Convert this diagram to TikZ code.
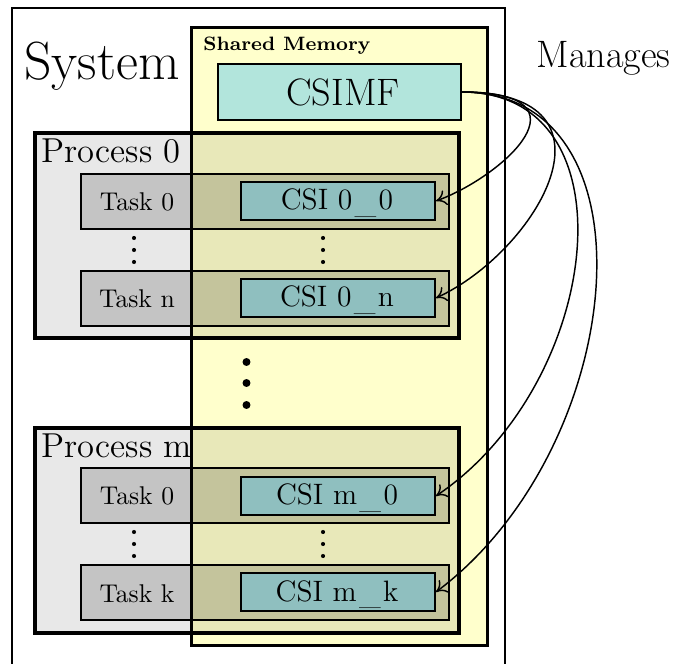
\documentclass[tikz,border=0pt]{standalone}
\usetikzlibrary{fit,arrows.meta}
\definecolor{memyellow}{HTML}{FFFFCC}
\definecolor{procgray}{HTML}{E8E8E8}
\definecolor{taskgray}{HTML}{D8D8D8}
\definecolor{csiteal}{HTML}{8FBFBF}
\definecolor{mfteal}{HTML}{B2E5DC}
% spaced, slightly lowered underscore for the CSI names
\newcommand{\csisep}{\kern0.08em\raisebox{-0.12em}{\_}\kern0.08em}
\tikzset{
  sysbox/.style={draw, line width=0.8pt, inner sep=0pt},
  memfill/.style={fill=memyellow, inner sep=0pt},
  procbox/.style={draw, fill=procgray, line width=1.4pt, inner sep=0pt},
  taskbox/.style={draw, fill=taskgray, line width=0.8pt, inner sep=0pt},
  csibox/.style={draw, fill=csiteal, line width=0.8pt, inner sep=0pt},
  mfbox/.style={draw, fill=mfteal, line width=0.6pt, inner sep=0pt},
  lbl/.style={inner sep=0pt, anchor=base},
  csilbl/.style={lbl, font=\fontsize{12.2}{14}\selectfont},
  tasklbl/.style={lbl, font=\fontsize{10.6}{13}\selectfont},
  proclbl/.style={inner sep=0pt, anchor=base west, font=\fontsize{14.3}{17}\selectfont},
  manage/.style={-{To[length=4.2pt, width=6.4pt]}, line width=0.6pt},
  bigdot/.style={circle, fill, inner sep=0pt, minimum size=3.3pt},
  smalldot/.style={circle, fill, inner sep=0pt, minimum size=1.7pt},
}
\begin{document}
\begin{tikzpicture}[x=0.4132pt, y=-0.4132pt]
\clip (0,0) rectangle (675,664);

% outer system frame, open at the bottom
\node[sysbox, fit={(12,8)(505,700)}] (system) {};
\node[anchor=base west, font=\fontsize{22.2}{26}\selectfont, inner sep=0pt] (systxt) at (24,80) {System};
\node[anchor=base west, font=\fontsize{15.8}{18}\selectfont, inner sep=0pt] (mantxt) at (536,68) {Manages};

% shared memory background
\node[memfill, fit={(192,28)(487,645)}] (shmem) {};

% processes and tasks, multiplied onto the shared memory
\begin{scope}[blend mode=multiply]
  \node[procbox, fit={(35,133)(459,338)}] (p0) {};
  \node[taskbox, fit={(81,174)(449,229)}] (p0t0) {};
  \node[taskbox, fit={(81,271)(449,326)}] (p0tn) {};
  \node[procbox, fit={(35,428)(459,633)}] (pm) {};
  \node[taskbox, fit={(81,468)(449,523)}] (pmt0) {};
  \node[taskbox, fit={(81,565)(449,620)}] (pmtk) {};
\end{scope}

% shared memory frame on top
\draw[line width=1.3pt] (shmem.north west) rectangle (shmem.south east);
\node[anchor=base west, font=\footnotesize\bfseries, inner sep=0pt] (shtxt) at (203,51) {Shared Memory};
\node[mfbox, fit={(218,64)(461,120)}] (csimf) {};
\node[lbl, font=\fontsize{15.8}{19}\selectfont] (csimftxt) at (343,106) {CSIMF};

% labels
\node[proclbl] (p0txt) at (41,163) {Process 0};
\node[proclbl] (pmtxt) at (41,458) {Process m};
\node[tasklbl] (t00) at (137,211) {Task 0};
\node[tasklbl] (t0n) at (137,308) {Task n};
\node[tasklbl] (tm0) at (137,505) {Task 0};
\node[tasklbl] (tmk) at (137,602) {Task k};

% task control structures
\node[csibox, fit={(241,182)(435,220)}] (c00) {};
\node[csibox, fit={(241,279)(435,317)}] (c0n) {};
\node[csibox, fit={(241,477)(435,515)}] (cm0) {};
\node[csibox, fit={(241,573)(435,611)}] (cmk) {};
\node[csilbl] (c00txt) at (337,210) {CSI 0\csisep 0};
\node[csilbl] (c0ntxt) at (337,307) {CSI 0\csisep n};
\node[csilbl] (cm0txt) at (337,505) {CSI m\csisep 0};
\node[csilbl] (cmktxt) at (337,601) {CSI m\csisep k};

% ellipses
\foreach \yy [count=\i] in {238,250,262} {
  \node[smalldot] (da\i) at (134,\yy) {};
  \node[smalldot] (db\i) at (323,\yy) {};
}
\foreach \yy [count=\i] in {532,544,556} {
  \node[smalldot] (dc\i) at (134,\yy) {};
  \node[smalldot] (dd\i) at (323,\yy) {};
}
\foreach \yy [count=\i] in {362,383,405} {
  \node[bigdot] (bd\i) at (246.5,\yy) {};
}

% management links
\draw[manage] (csimf.east) .. controls +(135,0) and +(66,-24) .. (c00.east);
\draw[manage] (csimf.east) .. controls +(170,0) and +(100,-46) .. (c0n.east);
\draw[manage] (csimf.east) .. controls +(175,0) and +(166,-112) .. (cm0.east);
\draw[manage] (csimf.east) .. controls +(200,0) and +(192,-144) .. (cmk.east);
\end{tikzpicture}
\end{document}
